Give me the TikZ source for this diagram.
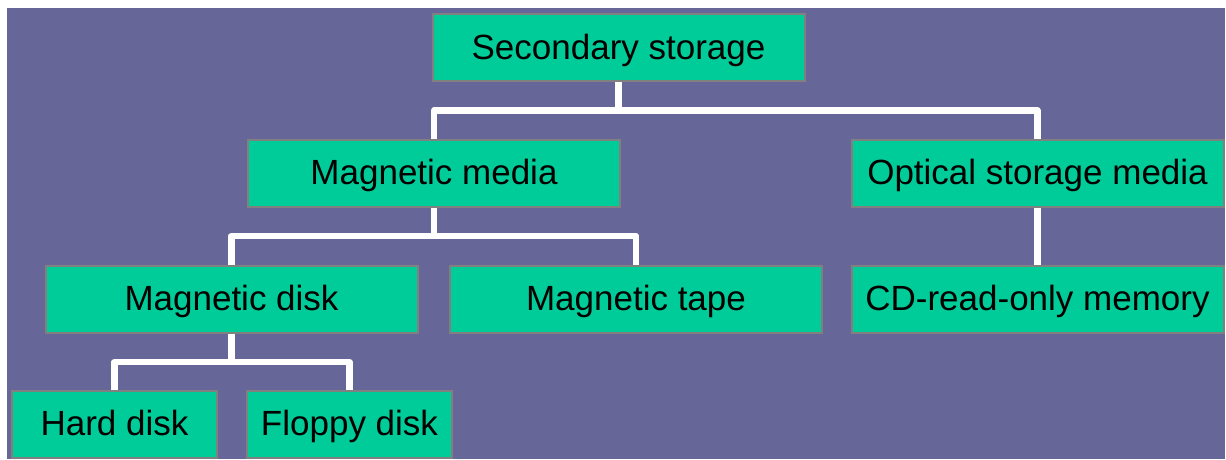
\documentclass[tikz,border=0pt]{standalone}
\usepackage{fontspec}
\setmainfont{Liberation Sans}
\definecolor{slate}{HTML}{666699}
\definecolor{mint}{HTML}{00CC99}
\definecolor{edge}{HTML}{808080}
\tikzset{
  box/.style={draw=edge, line width=2pt, fill=mint, inner sep=0pt,
    minimum height=67pt, text height=25pt, text depth=2pt,
    font=\fontsize{35}{40}\selectfont, text=black},
  wide/.style={box, minimum width=372pt},
  narrow/.style={box, minimum width=205pt},
  conn/.style={draw=white, line width=6.5pt, line join=round}
}
\begin{document}
\begin{tikzpicture}[x=1pt, y=-1pt]
  \useasboundingbox (0,0) rectangle (1226,459);
  \fill[slate] (7,8) rectangle (1225,459);

  % levels of the hierarchy
  \node[wide] (sec) at (618.5,47.5) {Secondary storage};
  \node[wide] (mm)  at (434,173)    {Magnetic media};
  \node[wide] (opt) at (1037.5,173) {Optical storage media};
  \node[wide] (md)  at (231.5,299)  {Magnetic disk};
  \node[wide] (mt)  at (636,299)    {Magnetic tape};
  \node[wide] (cd)  at (1037.5,299) {CD-read-only memory};
  \node[narrow] (hd) at (114.5,424) {Hard disk};
  \node[narrow] (fd) at (349.5,424) {Floppy disk};

  % rows of the branching bars
  \coordinate (r1) at (0,110.5);
  \coordinate (r2) at (0,236);
  \coordinate (r3) at (0,362);

  % branches
  \draw[conn] (sec.south) -- (sec.south |- r1);
  \draw[conn] (mm.north) |- (sec.south |- r1) -| (opt.north);
  \draw[conn] (mm.south) -- (mm.south |- r2);
  \draw[conn] (md.north) |- (mm.south |- r2) -| (mt.north);
  \draw[conn] (opt.south) -- (cd.north);
  \draw[conn] (md.south) -- (md.south |- r3);
  \draw[conn] (hd.north) |- (md.south |- r3) -| (fd.north);
\end{tikzpicture}
\end{document}
